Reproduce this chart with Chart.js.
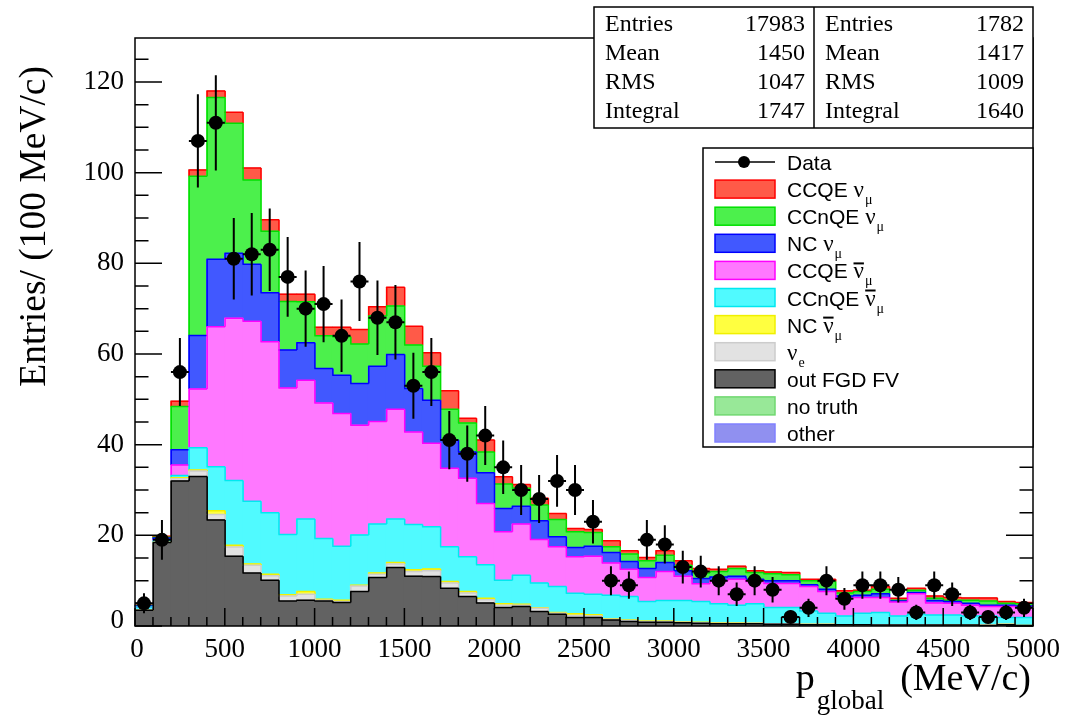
<!DOCTYPE html>
<html lang="en">
<head>
<meta charset="UTF-8">
<title>p_global stack</title>
<script src="https://cdn.jsdelivr.net/npm/chart.js"></script>
<style>
    * { margin: 0; padding: 0; box-sizing: border-box; }
    body { background: #fff; width: 1068px; height: 722px; overflow: hidden; }
    .chart-container { position: relative; width: 1068px; height: 722px; }
</style>
</head>
<body>
<div class="chart-container"><canvas id="pChart"></canvas></div>
<script>
// bins of 100 MeV/c, centres
const binCenters = [50, 150, 250, 350, 450, 550, 650, 750, 850, 950,
    1050, 1150, 1250, 1350, 1450, 1550, 1650, 1750, 1850, 1950,
    2050, 2150, 2250, 2350, 2450, 2550, 2650, 2750, 2850, 2950,
    3050, 3150, 3250, 3350, 3450, 3550, 3650, 3750, 3850, 3950,
    4050, 4150, 4250, 4350, 4450, 4550, 4650, 4750, 4850, 4950];
const binHalfWidth = 50;

// data points and their errors
const dataCounts = [5, 19, 56, 107, 111, 81, 82, 83, 77, 70,
    71, 64, 76, 68, 67, 53, 56, 41, 38, 42,
    35, 30, 28, 32, 30, 23, 10, 9, 19, 18,
    13, 12, 10, 7, 10, 8, 2, 4, 10, 6,
    9, 9, 8, 3, 9, 7, 3, 2, 3, 4];
const dataErrors = [2.2, 4.4, 7.5, 10.3, 10.5, 9.0, 9.1, 9.1, 8.8, 8.4,
    8.4, 8.0, 8.7, 8.2, 8.2, 7.3, 7.5, 6.4, 6.2, 6.5,
    5.9, 5.5, 5.3, 5.7, 5.5, 4.8, 3.2, 3.0, 4.4, 4.2,
    3.6, 3.5, 3.2, 2.6, 3.2, 2.8, 1.4, 2.0, 3.2, 2.4,
    3.0, 3.0, 2.8, 1.7, 3.0, 2.6, 1.7, 1.4, 1.7, 2.0];

// MC components, bottom of the stack first
const outFgdFv = [3.5, 18.4, 32.0, 33.0, 23.4, 15.4, 11.7, 10.1, 5.5, 5.7,
    5.5, 5.2, 7.6, 10.7, 12.9, 11.0, 10.9, 8.3, 6.5, 5.1,
    4.1, 4.3, 3.2, 2.6, 1.9, 1.9, 1.3, 1.0, 0.8, 0.8,
    0.7, 0.6, 0.5, 0.5, 0.5, 0.4, 0.4, 0.3, 0.3, 0.3,
    0.3, 0.2, 0.2, 0.2, 0.2, 0.2, 0.2, 0.1, 0.3, 0.1];
const nuE = [0, 0.1, 0.5, 1.2, 1.2, 2.0, 1.7, 1.0, 1.1, 1.3,
    0.2, 0.2, 1.2, 0.7, 0.8, 1.0, 1.3, 1.2, 0.8, 0.7,
    0.5, 0.3, 0.7, 0.2, 0.4, 0.3, 0.2, 0.2, 0.2, 0.2,
    0.1, 0.1, 0.1, 0.1, 0.1, 0.1, 0.1, 0.1, 0.1, 0,
    0, 0.1, 0.1, 0.1, 0.1, 0, 0, 0.1, 0.1, 0];
const ncAntiNuMu = [0, 0, 0.2, 0.2, 0.8, 0.4, 0.3, 0.3, 0.3, 0.6,
    0.2, 0.3, 0.2, 0.3, 0.3, 0.4, 0.4, 0.3, 0.3, 0.3,
    0.3, 0.2, 0.1, 0.2, 0.4, 0.3, 0.1, 0.1, 0.1, 0.1,
    0.1, 0.1, 0.1, 0.1, 0, 0, 0, 0, 0, 0,
    0, 0, 0, 0, 0, 0, 0, 0, 0, 0];
const ccnqeAntiNuMu = [0.7, 0.3, 0.5, 4.9, 9.7, 14.3, 13.8, 13.6, 13.3, 16.0,
    13.4, 11.9, 11.1, 10.8, 9.6, 10.0, 9.3, 7.7, 7.7, 7.4,
    5.2, 6.4, 5.5, 5.7, 4.5, 4.5, 5.2, 5.2, 4.3, 4.5,
    4.7, 4.6, 4.2, 3.9, 4.3, 3.6, 3.6, 2.9, 2.4, 1.9,
    2.5, 2.7, 1.9, 2.3, 2.1, 2.2, 2.0, 2.0, 1.5, 1.8];
const ccqeAntiNuMu = [0, 0.2, 2.3, 13.0, 30.9, 35.8, 39.7, 37.7, 32.3, 30.6,
    29.9, 29.3, 24.2, 22.6, 24.2, 20.4, 18.4, 17.3, 17.3, 13.5,
    10.7, 11.3, 9.6, 8.8, 8.1, 8.4, 7.1, 6.0, 5.3, 6.4,
    5.4, 3.9, 5.1, 5.7, 4.9, 5.3, 5.3, 5.4, 4.8, 3.9,
    3.5, 3.3, 3.1, 4.5, 2.7, 2.6, 2.4, 2.1, 2.4, 2.2];
const ncNuMu = [0.2, 0.4, 3.4, 11.8, 14.9, 14.3, 12.6, 10.8, 8.4, 8.3,
    7.6, 8.4, 9.2, 12.2, 12.1, 9.6, 9.5, 6.2, 5.8, 6.8,
    5.1, 3.9, 4.1, 2.2, 2.0, 2.2, 2.3, 1.7, 2.0, 2.0,
    1.2, 1.2, 0.8, 0.7, 0.5, 0.6, 0.6, 0.4, 0.5, 0.5,
    0.5, 0.8, 0.2, 0.3, 0.5, 0.4, 0.4, 0.3, 0.3, 0.3];
const ccnqeNuMu = [0.1, 0.2, 9.5, 35.1, 35.7, 28.7, 18.6, 13.6, 10.7, 9.0,
    7.2, 8.5, 8.7, 11.1, 10.7, 9.6, 7.5, 6.8, 6.4, 4.6,
    5.4, 4.0, 3.5, 3.8, 3.5, 3.0, 1.3, 1.7, 1.7, 1.6,
    1.2, 1.2, 1.2, 1.7, 1.5, 1.5, 1.3, 0.9, 1.7, 0.7,
    0.8, 1.0, 0.2, 0.5, 0.5, 0.3, 0.7, 0.9, 0.4, 0.5];
const ccqeNuMu = [0.1, 0.2, 1.2, 1.4, 1.4, 2.4, 2.6, 2.5, 1.6, 1.7,
    1.9, 2.1, 3.2, 2.0, 4.1, 4.1, 3.0, 4.1, 1.0, 2.6,
    1.6, 0.8, 1.5, 1.3, 0.7, 0.7, 1.3, 0.7, 0.7, 1.0,
    1.0, 1.0, 0.5, 0.5, 0.4, 0.4, 0.5, 0.3, 0.5, 0.5,
    0.3, 0.6, 0.4, 0.4, 0.5, 0.6, 0.5, 0.7, 0.4, 0.3];
const noTruth = new Array(50).fill(0);
const otherMC = new Array(50).fill(0);

// axis ticks and stat box text
const xTickLabels = [0, 500, 1000, 1500, 2000, 2500, 3000, 3500, 4000, 4500, 5000];
const yTickLabels = [0, 20, 40, 60, 80, 100, 120];
const statNames = ['Entries', 'Mean', 'RMS', 'Integral'];
const mcStats = ['17983', '1450', '1047', '1747'];
const dataStats = ['1782', '1417', '1009', '1640'];

const FRAME = { left: 135, right: 1033, top: 38, bottom: 626 };
const SERIF = '"Liberation Serif", "DejaVu Serif", serif';
const SANS = '"Liberation Sans", Arial, sans-serif';

const canvas = document.getElementById('pChart');

const stackSeries = [
    { name: 'out FGD FV', values: outFgdFv, fill: '#626262', line: '#000000' },
    { name: 'nue', values: nuE, fill: '#e2e2e2', line: '#cccccc' },
    { name: 'NC anti', values: ncAntiNuMu, fill: '#ffff40', line: '#f0f000' },
    { name: 'CCnQE anti', values: ccnqeAntiNuMu, fill: '#50faff', line: '#00e8f0' },
    { name: 'CCQE anti', values: ccqeAntiNuMu, fill: '#ff78ff', line: '#ff00ff' },
    { name: 'NC numu', values: ncNuMu, fill: '#4158ff', line: '#0000ff' },
    { name: 'CCnQE numu', values: ccnqeNuMu, fill: '#4cf04c', line: '#00e000' },
    { name: 'CCQE numu', values: ccqeNuMu, fill: '#ff5a48', line: '#ff0000' },
    { name: 'no truth', values: noTruth, fill: '#98e898', line: '#70d870' },
    { name: 'other', values: otherMC, fill: '#9090f0', line: '#8080ff' }
];
const DATA_INDEX = stackSeries.length;

const legendRows = [
    { kind: 'data', text: 'Data' },
    { kind: 'box', s: 7, pre: 'CCQE ', nu: true, sub: '\u03bc' },
    { kind: 'box', s: 6, pre: 'CCnQE ', nu: true, sub: '\u03bc' },
    { kind: 'box', s: 5, pre: 'NC ', nu: true, sub: '\u03bc' },
    { kind: 'box', s: 4, pre: 'CCQE ', nu: true, bar: true, sub: '\u03bc' },
    { kind: 'box', s: 3, pre: 'CCnQE ', nu: true, bar: true, sub: '\u03bc' },
    { kind: 'box', s: 2, pre: 'NC ', nu: true, bar: true, sub: '\u03bc' },
    { kind: 'box', s: 1, pre: '', nu: true, sub: 'e' },
    { kind: 'box', s: 0, pre: 'out FGD FV' },
    { kind: 'box', s: 8, pre: 'no truth' },
    { kind: 'box', s: 9, pre: 'other' }
];

// step outline of each cumulative histogram, as ROOT draws it
function drawOutlines(chart) {
    const ctx = chart.ctx;
    ctx.save();
    ctx.lineWidth = 1.5;
    for (let k = stackSeries.length - 1; k >= 0; k--) {
        const s = stackSeries[k];
        if (!s.values.some(v => v > 0)) continue;
        const bars = chart.getDatasetMeta(k).data;
        const below = k > 0 ? chart.getDatasetMeta(k - 1).data : null;
        ctx.strokeStyle = s.line;
        ctx.beginPath();
        bars.forEach((b, i) => {
            const l = b.x - b.width / 2, r = b.x + b.width / 2;
            ctx.moveTo(l, b.y);
            ctx.lineTo(r, b.y);
            if (i < bars.length - 1) {
                const n = bars[i + 1];
                const hi = Math.min(b.y, n.y), lo = Math.max(b.y, n.y);
                const cover = below ? Math.min(below[i].y, below[i + 1].y) : b.base;
                const end = Math.min(lo, cover);
                if (end > hi) { ctx.moveTo(r, hi); ctx.lineTo(r, end); }
            }
        });
        ctx.stroke();
    }
    ctx.restore();
}

function drawErrors(chart) {
    const ctx = chart.ctx, xs = chart.scales.xl, ys = chart.scales.y;
    ctx.save();
    ctx.strokeStyle = '#000';
    ctx.lineWidth = 2;
    ctx.beginPath();
    dataCounts.forEach((n, i) => {
        const x = xs.getPixelForValue(binCenters[i]);
        const y = ys.getPixelForValue(n);
        ctx.moveTo(x, ys.getPixelForValue(n - dataErrors[i]));
        ctx.lineTo(x, ys.getPixelForValue(n + dataErrors[i]));
        ctx.moveTo(xs.getPixelForValue(binCenters[i] - binHalfWidth), y);
        ctx.lineTo(xs.getPixelForValue(binCenters[i] + binHalfWidth), y);
    });
    ctx.stroke();
    ctx.restore();
}

function drawNuText(ctx, x, y, row, size) {
    ctx.font = size + 'px ' + SANS;
    ctx.fillText(row.pre, x, y);
    if (!row.nu) return;
    const cx = x + ctx.measureText(row.pre).width;
    ctx.font = (size + 2) + 'px ' + SERIF;
    const nuW = ctx.measureText('\u03bd').width;
    ctx.fillText('\u03bd', cx, y);
    if (row.bar) {
        ctx.save();
        ctx.lineWidth = 2;
        ctx.beginPath();
        ctx.moveTo(cx, y - 15);
        ctx.lineTo(cx + nuW, y - 15);
        ctx.stroke();
        ctx.restore();
    }
    ctx.font = Math.round(size * 0.66) + 'px ' + SERIF;
    ctx.fillText(row.sub, cx + nuW + 1, y + 7);
}

function drawFrameAndText(chart) {
    const ctx = chart.ctx, xs = chart.scales.xl, ys = chart.scales.y;
    const { left, right, top, bottom } = chart.chartArea;
    ctx.save();
    ctx.strokeStyle = '#000';
    ctx.fillStyle = '#000';
    ctx.lineWidth = 1.5;
    ctx.strokeRect(left, top, right - left, bottom - top);

    // ticks, pointing inwards
    ctx.beginPath();
    for (let v = 0; v <= 125; v += 5) {
        const y = ys.getPixelForValue(v);
        const len = v % 20 === 0 ? 27 : 13.5;
        ctx.moveTo(left, y); ctx.lineTo(left + len, y);
        ctx.moveTo(right, y); ctx.lineTo(right - len, y);
    }
    for (let v = 0; v <= 5000; v += 100) {
        const x = xs.getPixelForValue(v);
        const len = v % 500 === 0 ? 18 : 9;
        ctx.moveTo(x, bottom); ctx.lineTo(x, bottom - len);
    }
    ctx.stroke();

    ctx.font = '27px ' + SERIF;
    ctx.textAlign = 'right';
    ctx.textBaseline = 'middle';
    yTickLabels.forEach(v => ctx.fillText(String(v), left - 11, ys.getPixelForValue(v) - (v === 0 ? 5 : 0)));
    ctx.textAlign = 'center';
    ctx.textBaseline = 'top';
    xTickLabels.forEach(v => ctx.fillText(String(v), xs.getPixelForValue(v) + (v === 0 ? 2 : 0), bottom + 10));

    // axis titles
    ctx.save();
    ctx.translate(35, 66);
    ctx.rotate(-Math.PI / 2);
    ctx.font = '37.5px ' + SERIF;
    ctx.textAlign = 'right';
    ctx.textBaseline = 'middle';
    ctx.fillText('Entries/ (100 MeV/c)', 0, 0);
    ctx.restore();

    ctx.textBaseline = 'alphabetic';
    ctx.textAlign = 'left';
    ctx.font = '38px ' + SERIF;
    const unitW = ctx.measureText('(MeV/c)').width;
    const unitX = right - 2 - unitW;
    ctx.fillText('(MeV/c)', unitX, 690);
    ctx.font = '27px ' + SERIF;
    const subW = ctx.measureText('global').width;
    const subX = unitX - 16 - subW;
    ctx.fillText('global', subX, 709);
    ctx.font = '38px ' + SERIF;
    const pW = ctx.measureText('p').width;
    ctx.fillText('p', subX - 2 - pW, 690);

    // stat boxes
    const boxes = [{ l: 594, r: 814, vals: mcStats }, { l: 814, r: 1033, vals: dataStats }];
    ctx.fillStyle = '#fff';
    ctx.fillRect(594, 7, 1033 - 594, 121);
    ctx.strokeRect(594, 7, 1033 - 594, 121);
    ctx.beginPath(); ctx.moveTo(814, 7); ctx.lineTo(814, 128); ctx.stroke();
    ctx.fillStyle = '#000';
    ctx.font = '24px ' + SERIF;
    ctx.textBaseline = 'middle';
    boxes.forEach(b => {
        statNames.forEach((nm, i) => {
            const y = 25 + i * 29;
            ctx.textAlign = 'left';
            ctx.fillText(nm, b.l + 11, y);
            ctx.textAlign = 'right';
            ctx.fillText(b.vals[i], b.r - 9, y);
        });
    });

    // legend
    ctx.fillStyle = '#fff';
    ctx.fillRect(703, 148, 1033 - 703, 299);
    ctx.strokeRect(703, 148, 1033 - 703, 299);
    legendRows.forEach((row, i) => {
        const cy = 162 + i * 27.1;
        if (row.kind === 'data') {
            ctx.strokeStyle = '#000';
            ctx.lineWidth = 1.5;
            ctx.beginPath(); ctx.moveTo(715, cy); ctx.lineTo(775, cy); ctx.stroke();
            ctx.fillStyle = '#000';
            ctx.beginPath(); ctx.arc(744, cy, 6, 0, Math.PI * 2); ctx.fill();
        } else {
            const s = stackSeries[row.s];
            ctx.fillStyle = s.fill;
            ctx.fillRect(715, cy - 9, 60, 18);
            ctx.strokeStyle = s.line;
            ctx.lineWidth = 1.5;
            ctx.strokeRect(715, cy - 9, 60, 18);
        }
        ctx.fillStyle = '#000';
        ctx.strokeStyle = '#000';
        ctx.textAlign = 'left';
        ctx.textBaseline = 'alphabetic';
        if (row.kind === 'data') {
            ctx.font = '21px ' + SANS;
            ctx.fillText(row.text, 787, cy + 8);
        } else {
            drawNuText(ctx, 787, cy + 8, row, 21);
        }
    });
    ctx.restore();
}

const histPlugin = {
    id: 'rootHist',
    beforeDatasetDraw(chart, args) {
        if (args.index === DATA_INDEX) {
            drawOutlines(chart);
            drawErrors(chart);
        }
    },
    afterDraw(chart) {
        drawFrameAndText(chart);
    }
};

const datasets = stackSeries.map(s => ({
    type: 'bar',
    label: s.name,
    data: s.values,
    backgroundColor: s.fill,
    borderWidth: 0,
    xAxisID: 'x',
    yAxisID: 'y',
    order: 1
}));
datasets.push({
    type: 'scatter',
    label: 'Data',
    data: binCenters.map((c, i) => ({ x: c, y: dataCounts[i] })),
    backgroundColor: '#000',
    borderWidth: 0,
    pointRadius: 7,
    xAxisID: 'xl',
    yAxisID: 'y',
    clip: false,
    order: 0
});

new Chart(canvas, {
    type: 'bar',
    data: { labels: binCenters, datasets: datasets },
    options: {
        responsive: true,
        maintainAspectRatio: false,
        animation: false,
        layout: { padding: { left: FRAME.left, right: 1068 - FRAME.right, top: FRAME.top, bottom: 722 - FRAME.bottom } },
        datasets: {
            bar: {
                grouped: false,
                barPercentage: 1,
                categoryPercentage: 1,
                // one full bin per bar, no gaps
                barThickness: ctx => ctx.chart.chartArea ? ctx.chart.chartArea.width / binCenters.length + 0.6 : undefined
            }
        },
        plugins: { legend: { display: false }, tooltip: { enabled: false } },
        scales: {
            x: { type: 'category', stacked: true, display: false, offset: true },
            xl: { type: 'linear', min: 0, max: 5000, display: false, offset: false },
            y: { type: 'linear', min: 0, max: 129.7, stacked: true, display: false, offset: false }
        }
    },
    plugins: [histPlugin]
});
</script>
</body>
</html>
